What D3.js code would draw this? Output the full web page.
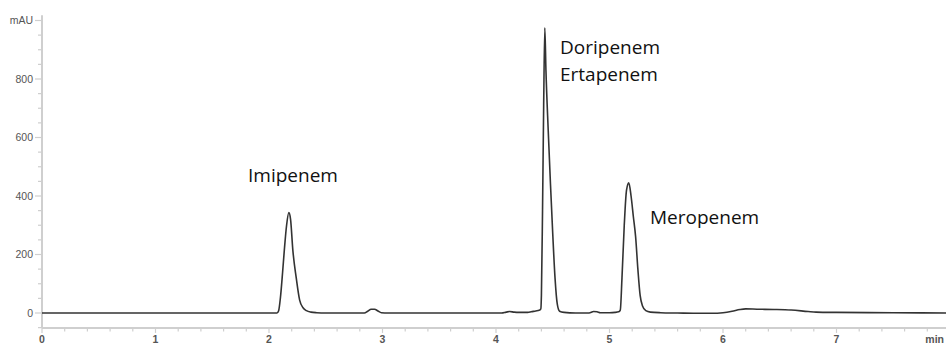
<!DOCTYPE html>
<meta charset="utf-8">
<script src="https://d3js.org/d3.v7.min.js"></script>
<style>
  body { margin: 0; background: #fff; }
</style>
<body>
<div id="my_dataviz"></div>
<script>

// retention time (min) and detector signal (mAU)
var times = [0, 1, 2, 2.07, 2.085, 2.10, 2.12, 2.135, 2.155, 2.175, 2.19, 2.21, 2.24, 2.27, 2.30, 2.33, 2.37, 2.42, 2.5,
  2.84, 2.87, 2.90, 2.93, 2.96, 2.99, 3.05, 3.5, 4.05, 4.09, 4.12, 4.16, 4.2, 4.28, 4.31, 4.35, 4.38, 4.395,
  4.40, 4.41, 4.42, 4.43, 4.44, 4.46, 4.48, 4.50, 4.52, 4.54, 4.56, 4.60, 4.7, 4.82, 4.86, 4.89, 4.92, 5.0,
  5.05, 5.08, 5.095, 5.11, 5.13, 5.15, 5.17, 5.19, 5.21, 5.23, 5.25, 5.27, 5.29, 5.32, 5.36, 5.45,
  5.6, 5.8, 5.9, 6.0, 6.08, 6.15, 6.2, 6.3, 6.45, 6.6, 6.75, 6.82, 7.0, 7.5, 8.0];
var mAU = [0, 0, 0, 0, 8, 50, 140, 215, 300, 343, 320, 215, 120, 44, 18, 8, 3, 1, 0,
  0, 6, 13, 13, 7, 1, 0, 0, 0, 3, 5, 3, 2, 2, 4, 7, 9, 14,
  60, 350, 710, 975, 830, 625, 440, 270, 120, 30, 6, 2, 0, 0, 5, 4, 1, 1,
  2, 4, 10, 120, 300, 420, 445, 400, 330, 261, 150, 60, 25, 8, 3, 1,
  0, -1, -1, 1, 6, 12, 14, 13, 12, 10, 5, 3, 2, 1, 0];

var yLabels = ["0", "200", "400", "600", "800", "mAU"];
var yLabelValues = [0, 200, 400, 600, 800, 1000];
var xLabels = ["0", "1", "2", "3", "4", "5", "6", "7", "min"];

var peakNames = ["Imipenem", "Doripenem", "Ertapenem", "Meropenem"];

var width = 946, height = 345;

var svg = d3.select("#my_dataviz")
  .append("svg")
    .attr("width", width)
    .attr("height", height);

var x = d3.scaleLinear().domain([0, 8]).range([42, 950]);
var y = d3.scaleLinear().domain([0, 1000]).range([313, 20.5]);

var axisColor = "#cfcfcf";
var labelColor = "#555";

// Y axis line + ticks
svg.append("line")
  .attr("x1", 42).attr("x2", 42)
  .attr("y1", y(1018)).attr("y2", y(-51))
  .attr("stroke", axisColor).attr("stroke-width", 2);

svg.selectAll(".yminor")
  .data(d3.range(-50, 1001, 50))
  .enter().append("line")
    .attr("x1", function(d) { return d % 200 == 0 ? 35 : 38; })
    .attr("x2", 42)
    .attr("y1", function(d) { return y(d); })
    .attr("y2", function(d) { return y(d); })
    .attr("stroke", axisColor).attr("stroke-width", 1.2);

svg.selectAll(".ylab")
  .data(yLabelValues)
  .enter().append("text")
    .attr("x", 33)
    .attr("y", function(d) { return y(d); })
    .attr("dy", "0.35em")
    .attr("text-anchor", "end")
    .style("font-family", "Liberation Sans, Arial, sans-serif")
    .style("font-size", "10.5px")
    .attr("fill", labelColor)
    .text(function(d, i) { return yLabels[i]; });

// X axis line + ticks
var xAxisY = y(-51);
svg.append("line")
  .attr("x1", 42).attr("x2", width)
  .attr("y1", xAxisY).attr("y2", xAxisY)
  .attr("stroke", axisColor).attr("stroke-width", 2);

svg.selectAll(".xtick")
  .data(d3.range(0, 41).map(function(i) { return i / 5; }))
  .enter().append("line")
    .attr("x1", function(d) { return x(d); })
    .attr("x2", function(d) { return x(d); })
    .attr("y1", xAxisY)
    .attr("y2", function(d, i) { return i % 5 == 0 ? xAxisY + 5 : xAxisY + 3.5; })
    .attr("stroke", axisColor).attr("stroke-width", 1.2);

svg.selectAll(".xlab")
  .data(xLabels)
  .enter().append("text")
    .attr("x", function(d, i) { return i == 8 ? 944 : x(i); })
    .attr("y", 343)
    .attr("text-anchor", function(d, i) { return i == 8 ? "end" : "middle"; })
    .style("font-family", "Liberation Sans, Arial, sans-serif")
    .style("font-size", "10.5px")
    .style("font-weight", "bold")
    .attr("fill", labelColor)
    .text(function(d) { return d; });

// chromatogram trace
var points = times.map(function(t, i) { return [t, mAU[i]]; });
var line = d3.line()
  .x(function(d) { return x(d[0]); })
  .y(function(d) { return y(d[1]); })
  .curve(d3.curveMonotoneX);

svg.append("path")
  .datum(points)
  .attr("d", line)
  .attr("fill", "none")
  .attr("stroke", "#333")
  .attr("stroke-width", 1.6)
  .attr("stroke-linejoin", "round");

// peak labels
var labelPos = [[248, 182], [560, 54], [560, 81], [650, 224]];
svg.selectAll(".peak")
  .data(peakNames)
  .enter().append("text")
    .attr("x", function(d, i) { return labelPos[i][0]; })
    .attr("y", function(d, i) { return labelPos[i][1]; })
    .style("font-family", "Open Sans, sans-serif")
    .style("font-size", "19px")
    .attr("fill", "#111")
    .text(function(d) { return d; });

</script>
</body>
